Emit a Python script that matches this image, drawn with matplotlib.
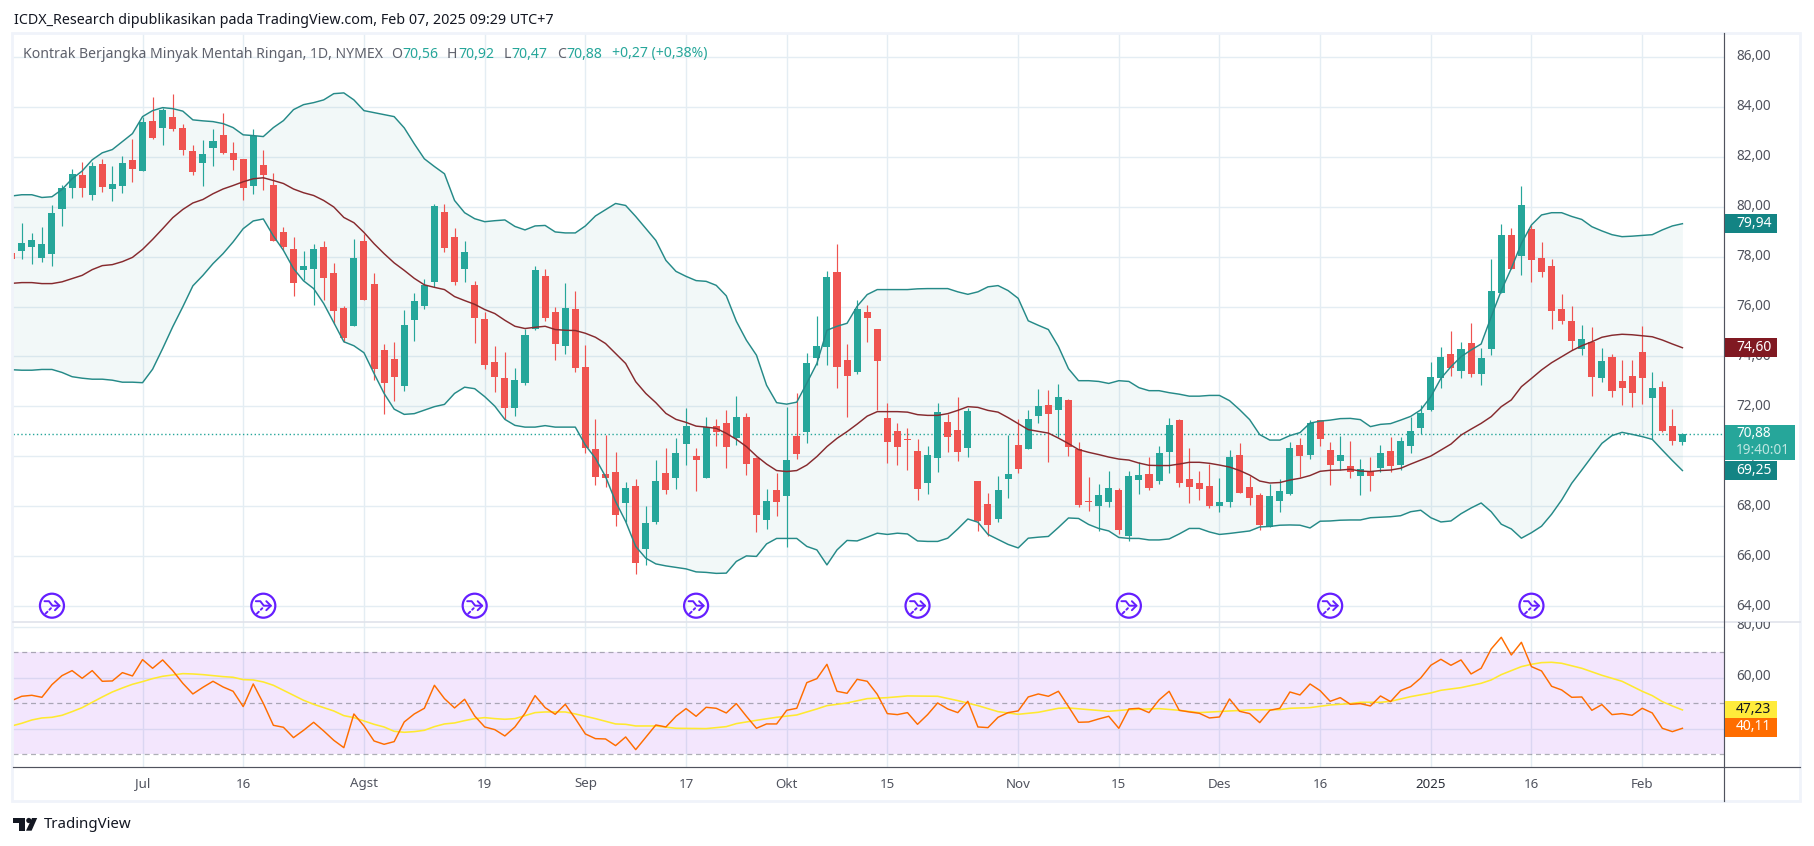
#!/usr/bin/env python3
"""Crude oil daily candles with Bollinger bands and an RSI pane, TradingView look."""

import matplotlib
matplotlib.use("Agg")
import matplotlib.pyplot as plt
import matplotlib.patches as patches
from matplotlib.transforms import Bbox

plt.rcParams["font.family"] = ["Noto Sans", "DejaVu Sans"]

W, H = 1814, 846
GREEN = "#26a69a"
RED = "#ef5350"
GRID = "#e4edf3"
TEXT = "#50535e"
PURPLE = "#651fff"

# bar numbers run from -13 (partly cut) to 153, bar 0 is 1 July 2024
first_bar = -13

bar_open = [
    78.15, 78.21, 78.37, 77.93, 78.09, 79.89, 80.73, 81.29, 80.45, 81.73, 80.69, 80.85, 81.89,
    81.45, 83.45, 83.17, 83.61, 83.17, 82.25, 81.77, 82.37, 82.89, 82.17,
    81.93, 80.85, 81.69, 80.89, 78.97, 78.29, 77.45, 77.49, 78.37, 77.33,
    75.93, 75.21, 78.61, 76.89, 74.25, 73.89, 72.81, 75.45, 76.01, 76.97,
    79.77, 78.77, 77.49, 76.85, 75.49, 73.77, 73.13, 71.93, 72.93, 75.09,
    77.21, 75.77, 74.41, 75.89, 73.57, 70.29, 69.29, 69.37, 68.13, 68.81,
    66.29, 67.37, 69.33, 69.13, 70.49, 70.01, 69.13, 71.21, 71.33, 70.73,
    71.57, 69.93, 67.45, 68.65, 68.41, 70.81, 70.97, 73.93, 74.37, 77.37,
    73.85, 73.37, 75.77, 75.09, 71.55, 71.03, 70.71, 70.23, 68.95, 69.95,
    71.39, 71.07, 70.35, 69.03, 68.07, 67.47, 69.11, 70.47, 70.31, 71.63,
    72.07, 71.87, 72.27, 70.31, 68.19, 67.99, 68.15, 68.67, 66.79, 69.07,
    69.31, 69.03, 70.19, 71.47, 69.11, 68.95, 68.83, 67.99, 68.15, 70.07,
    68.79, 68.47, 67.15, 68.19, 68.51, 70.47, 70.05, 71.45, 70.25, 69.81,
    69.61, 69.21, 69.41, 69.53, 70.21, 69.65, 70.41, 71.13, 71.86, 73.14,
    74.10, 73.42, 74.54, 73.30, 74.30, 76.54, 78.87, 78.02, 79.11, 77.94,
    77.62, 75.90, 75.42, 74.30, 74.58, 73.14, 73.98, 73.02, 73.22, 74.18,
    72.34, 72.78, 71.21, 70.56,
]
bar_high = [
    78.15, 79.35, 78.93, 79.17, 80.05, 80.89, 81.53, 81.81, 81.81, 81.93, 81.65, 82.05, 82.73,
    83.61, 84.41, 83.97, 84.53, 83.33, 82.49, 82.69, 83.13, 83.77, 82.61,
    81.93, 83.13, 82.29, 81.37, 79.17, 78.77, 78.21, 78.49, 78.61, 77.73,
    76.01, 78.69, 78.89, 77.33, 74.49, 74.57, 75.85, 76.53, 77.12, 80.09,
    80.09, 79.13, 78.61, 77.01, 75.77, 74.41, 74.17, 73.53, 75.09, 77.61,
    77.49, 75.97, 76.93, 76.61, 74.45, 71.49, 70.85, 70.17, 68.97, 69.09,
    68.01, 69.85, 70.33, 70.73, 71.93, 70.33, 71.57, 71.49, 71.85, 72.41,
    71.73, 69.99, 68.69, 69.33, 71.97, 72.53, 74.13, 75.61, 77.41, 78.49,
    74.49, 76.25, 76.05, 75.09, 72.15, 71.35, 71.15, 70.71, 70.43, 72.15,
    71.71, 72.39, 71.95, 69.03, 68.55, 69.23, 70.87, 71.51, 71.87, 72.71,
    72.67, 72.91, 72.31, 70.59, 69.19, 68.91, 69.43, 68.75, 69.43, 69.79,
    69.99, 70.43, 71.55, 71.51, 70.35, 69.43, 69.71, 69.15, 70.27, 70.55,
    69.23, 68.55, 68.91, 69.11, 70.59, 70.75, 71.45, 71.45, 70.57, 70.81,
    70.61, 69.89, 69.97, 70.45, 70.77, 70.77, 71.57, 72.05, 73.78, 74.38,
    75.02, 74.58, 75.34, 74.34, 77.90, 79.31, 79.15, 80.83, 79.27, 78.58,
    77.90, 76.50, 76.02, 75.26, 75.18, 74.34, 74.10, 73.86, 73.86, 75.22,
    73.38, 73.02, 71.90, 70.92,
]
bar_low = [
    77.89, 77.89, 77.69, 77.77, 77.61, 79.21, 80.35, 80.37, 80.25, 80.57, 80.21, 80.53, 81.01,
    81.43, 82.73, 82.49, 83.05, 82.09, 81.29, 80.85, 81.65, 82.13, 81.49,
    80.25, 80.49, 80.65, 78.61, 78.25, 76.41, 77.05, 76.05, 76.25, 75.32,
    74.59, 75.21, 76.25, 73.05, 71.69, 72.21, 72.61, 74.61, 75.89, 76.79,
    78.17, 76.85, 76.97, 74.53, 73.49, 72.57, 71.49, 71.61, 72.85, 75.05,
    75.41, 73.85, 74.09, 73.37, 70.13, 68.85, 68.77, 67.21, 67.37, 65.29,
    65.65, 67.29, 68.49, 68.69, 69.65, 68.61, 69.13, 70.41, 69.53, 70.45,
    69.25, 66.97, 67.09, 67.61, 66.37, 69.89, 70.53, 73.65, 73.65, 72.73,
    71.57, 73.29, 74.57, 71.85, 69.75, 69.67, 69.47, 68.23, 68.51, 69.39,
    70.19, 69.83, 69.99, 66.99, 66.79, 67.35, 68.35, 69.35, 70.31, 71.35,
    69.79, 70.79, 70.03, 67.95, 67.79, 66.99, 67.95, 66.87, 66.59, 68.51,
    68.67, 68.91, 69.35, 68.79, 68.11, 68.23, 67.91, 67.75, 67.95, 68.55,
    68.03, 67.03, 67.15, 67.75, 68.47, 69.19, 69.89, 70.41, 68.85, 69.45,
    69.13, 68.45, 68.61, 69.37, 69.37, 69.45, 70.13, 70.89, 71.82, 72.74,
    73.22, 73.14, 73.18, 72.86, 74.06, 76.54, 77.50, 77.26, 76.98, 77.18,
    75.10, 75.30, 74.26, 74.06, 72.42, 72.98, 72.38, 72.06, 71.98, 72.10,
    70.71, 70.97, 70.45, 70.47,
]
bar_close = [
    77.89, 78.53, 78.65, 78.49, 79.73, 80.73, 81.33, 80.73, 81.65, 80.81, 80.93, 81.77, 81.53,
    83.41, 82.77, 83.89, 83.13, 82.29, 81.41, 82.13, 82.65, 82.17, 81.89,
    80.73, 82.85, 81.29, 78.61, 78.37, 76.93, 77.61, 78.29, 77.13, 75.81,
    74.73, 77.93, 76.28, 73.49, 72.93, 73.17, 75.25, 76.21, 76.85, 80.01,
    78.33, 76.97, 78.17, 75.53, 73.65, 73.17, 71.93, 73.05, 74.85, 77.45,
    75.53, 74.49, 75.93, 73.53, 70.33, 69.17, 69.13, 67.65, 68.73, 65.73,
    67.33, 69.01, 68.65, 70.13, 71.21, 69.85, 71.17, 70.97, 70.37, 71.57,
    69.69, 67.65, 68.21, 68.17, 69.85, 70.09, 73.73, 74.41, 77.17, 73.57,
    73.21, 75.89, 75.53, 73.81, 70.59, 70.39, 70.67, 68.71, 70.07, 71.79,
    70.79, 70.19, 71.83, 67.39, 67.23, 68.67, 69.31, 69.51, 71.51, 72.03,
    71.71, 72.39, 70.39, 68.03, 68.15, 68.47, 68.75, 67.03, 69.23, 69.27,
    68.75, 70.15, 71.27, 68.95, 68.79, 68.71, 67.99, 68.15, 69.99, 68.55,
    68.31, 67.23, 68.43, 68.63, 70.35, 70.03, 71.33, 70.69, 69.65, 70.05,
    69.37, 69.49, 69.21, 70.13, 69.61, 70.61, 71.01, 71.73, 73.18, 73.98,
    73.54, 74.30, 73.30, 73.94, 76.62, 78.87, 77.50, 80.07, 77.86, 77.38,
    75.82, 75.42, 74.62, 74.70, 73.18, 73.82, 72.62, 72.74, 72.54, 73.14,
    72.74, 71.01, 70.61, 70.88,
]

bb_upper = [
    80.43, 80.48, 80.48, 80.37, 80.40, 80.69, 81.12, 81.43, 81.88, 82.16, 82.29, 82.61, 82.93,
    83.61, 83.85, 83.97, 83.93, 83.83, 83.48, 83.44, 83.41, 83.33, 83.17,
    82.88, 82.85, 82.81, 83.17, 83.45, 83.89, 84.09, 84.17, 84.28, 84.53,
    84.56, 84.28, 83.85, 83.77, 83.69, 83.61, 83.16, 82.52, 81.92, 81.61,
    81.32, 80.25, 79.76, 79.52, 79.40, 79.44, 79.47, 79.21, 79.07, 79.23,
    79.25, 78.99, 78.95, 78.95, 79.23, 79.63, 79.88, 80.13, 80.05, 79.61,
    79.13, 78.65, 77.85, 77.41, 77.21, 77.04, 77.01, 76.85, 76.43, 75.41,
    74.65, 74.05, 72.85, 72.15, 72.09, 72.17, 72.93, 73.72, 75.05, 75.21,
    75.33, 76.01, 76.48, 76.68, 76.68, 76.68, 76.68, 76.71, 76.72, 76.72,
    76.72, 76.59, 76.49, 76.59, 76.79, 76.84, 76.64, 76.33, 75.43, 75.25,
    75.08, 74.40, 73.51, 73.03, 73.03, 73.00, 72.92, 73.03, 73.00, 72.75,
    72.63, 72.63, 72.55, 72.49, 72.41, 72.41, 72.44, 72.44, 72.23, 71.87,
    71.47, 70.87, 70.65, 70.65, 70.83, 70.95, 71.33, 71.41, 71.45, 71.51,
    71.52, 71.47, 71.19, 71.28, 71.31, 71.45, 71.60, 71.86, 72.39, 73.12,
    73.59, 73.99, 74.26, 74.50, 75.59, 76.64, 77.53, 78.53, 79.27, 79.67,
    79.76, 79.76, 79.61, 79.49, 79.20, 79.03, 78.88, 78.80, 78.82, 78.85,
    78.88, 79.07, 79.23, 79.32,
]
bb_basis = [
    76.93, 76.96, 76.96, 76.92, 76.92, 76.99, 77.12, 77.25, 77.48, 77.64, 77.68, 77.80, 77.97,
    78.29, 78.69, 79.12, 79.56, 79.89, 80.15, 80.29, 80.52, 80.71, 80.85,
    81.00, 81.12, 81.16, 81.05, 80.93, 80.71, 80.56, 80.45, 80.25, 79.99,
    79.57, 79.36, 78.97, 78.52, 78.12, 77.75, 77.45, 77.13, 76.87, 76.77,
    76.68, 76.40, 76.24, 76.09, 75.88, 75.72, 75.45, 75.21, 75.12, 75.17,
    75.21, 75.08, 75.05, 75.04, 74.93, 74.77, 74.52, 74.12, 73.72, 72.99,
    72.52, 72.15, 71.72, 71.48, 71.36, 71.21, 71.17, 71.12, 70.92, 70.68,
    70.39, 70.01, 69.69, 69.43, 69.39, 69.43, 69.65, 69.99, 70.39, 70.72,
    70.99, 71.29, 71.61, 71.79, 71.79, 71.79, 71.77, 71.67, 71.64, 71.64,
    71.71, 71.84, 71.99, 71.96, 71.84, 71.77, 71.55, 71.31, 71.07, 71.00,
    70.93, 70.73, 70.51, 70.27, 70.16, 70.07, 69.97, 69.89, 69.85, 69.73,
    69.64, 69.63, 69.63, 69.69, 69.76, 69.76, 69.72, 69.65, 69.57, 69.43,
    69.25, 69.01, 68.93, 68.95, 69.05, 69.12, 69.23, 69.40, 69.44, 69.45,
    69.48, 69.41, 69.39, 69.43, 69.45, 69.52, 69.69, 69.85, 70.01, 70.25,
    70.49, 70.85, 71.09, 71.32, 71.59, 71.99, 72.26, 72.79, 73.12, 73.46,
    73.75, 73.99, 74.23, 74.43, 74.59, 74.77, 74.85, 74.89, 74.87, 74.83,
    74.79, 74.66, 74.50, 74.35,
]
bb_lower = [
    73.47, 73.45, 73.45, 73.48, 73.48, 73.36, 73.19, 73.13, 73.09, 73.09, 73.05, 72.97, 72.97,
    72.95, 73.49, 74.32, 75.19, 75.99, 76.83, 77.25, 77.72, 78.12, 78.59,
    79.12, 79.43, 79.51, 78.83, 78.25, 77.52, 77.03, 76.72, 76.12, 75.36,
    74.59, 74.43, 74.15, 73.32, 72.52, 71.89, 71.68, 71.71, 71.85, 71.99,
    72.08, 72.52, 72.77, 72.71, 72.39, 72.01, 71.48, 71.24, 71.17, 71.17,
    71.23, 71.17, 71.17, 71.17, 70.45, 69.92, 69.19, 68.19, 67.39, 66.39,
    65.92, 65.69, 65.61, 65.55, 65.49, 65.37, 65.35, 65.31, 65.32, 65.79,
    66.01, 65.99, 66.49, 66.71, 66.71, 66.71, 66.39, 66.25, 65.65, 66.25,
    66.63, 66.61, 66.76, 66.92, 66.87, 66.92, 66.89, 66.61, 66.59, 66.59,
    66.72, 67.09, 67.49, 67.36, 66.87, 66.67, 66.47, 66.33, 66.72, 66.76,
    66.79, 67.15, 67.53, 67.51, 67.27, 67.11, 67.01, 66.75, 66.71, 66.71,
    66.65, 66.65, 66.69, 66.89, 67.11, 67.11, 66.97, 66.87, 66.91, 66.96,
    67.01, 67.17, 67.19, 67.24, 67.25, 67.24, 67.13, 67.40, 67.41, 67.44,
    67.45, 67.45, 67.54, 67.56, 67.58, 67.62, 67.78, 67.84, 67.54, 67.37,
    67.41, 67.70, 67.93, 68.13, 67.78, 67.28, 67.09, 66.72, 66.94, 67.20,
    67.68, 68.25, 68.92, 69.45, 69.99, 70.52, 70.83, 70.96, 70.88, 70.79,
    70.68, 70.25, 69.83, 69.43,
]

rsi_values = [
    51.05, 52.75, 53.14, 52.35, 57.32, 60.85, 62.81, 59.80, 62.81, 58.63, 58.76, 62.03, 60.72,
    67.12, 63.73, 67.00, 62.81, 57.84, 53.66, 56.27, 58.63, 56.41, 54.71,
    48.70, 57.58, 50.00, 41.37, 40.59, 36.54, 39.41, 42.55, 39.15, 35.49,
    32.61, 45.82, 41.11, 35.23, 33.92, 34.97, 42.68, 45.82, 48.04, 57.06,
    51.83, 48.17, 51.57, 45.03, 40.72, 39.67, 37.19, 40.72, 46.08, 53.01,
    48.30, 45.69, 49.61, 43.99, 37.97, 36.14, 36.01, 33.40, 36.80, 31.83,
    36.67, 41.50, 40.72, 44.90, 47.91, 44.90, 48.43, 48.04, 46.21, 49.87,
    44.90, 40.20, 41.90, 41.90, 47.25, 48.04, 58.10, 59.67, 65.29, 54.71,
    53.92, 59.41, 58.63, 53.53, 45.95, 45.56, 46.34, 41.76, 45.56, 50.13,
    47.78, 46.34, 50.78, 40.72, 40.46, 44.51, 46.34, 47.00, 52.48, 53.66,
    52.75, 54.71, 48.70, 42.55, 42.68, 43.86, 44.90, 40.20, 47.78, 48.04,
    46.34, 51.31, 54.71, 47.25, 46.60, 46.08, 44.25, 44.64, 51.70, 46.86,
    45.95, 42.42, 47.25, 48.04, 54.44, 53.27, 57.58, 54.97, 50.78, 52.22,
    49.61, 49.87, 48.95, 52.88, 50.65, 54.97, 56.54, 59.93, 64.90, 67.25,
    64.90, 67.00, 61.50, 63.73, 71.31, 75.88, 68.95, 73.92, 64.38, 62.68,
    56.67, 55.23, 52.35, 52.48, 47.25, 49.48, 45.56, 45.95, 45.29, 48.04,
    46.21, 40.20, 38.89, 40.20,
]

# the smoothed RSI only read at its bends
rsi_ma_bars = [
    -13, -12, -11, -10, -9, -8, -7, -6, -5, -4, -3, -2, -1, 0, 1, 2, 3, 4, 5, 6, 7, 8, 9,
    10, 11, 12, 13, 14, 15, 16, 17, 18, 19, 20, 21, 22, 23, 24, 25, 26, 27, 28, 29, 30,
    31, 32, 33, 34, 35, 36, 37, 38, 39, 40, 41, 42, 43, 44, 45,
    47, 48, 49, 51, 53, 56, 58, 59, 61, 63, 65, 67, 68, 70, 72, 74, 76, 79, 81, 83, 85,
    87, 89, 91, 92, 94, 96, 98, 101, 103, 105,
    108, 110, 113, 114, 116, 118, 120, 121, 123, 124, 126, 128, 129, 131, 133, 134, 135,
    137, 138, 139, 140, 141, 143, 145, 147, 149, 150, 151, 152, 153,
]
rsi_ma_values = [
    41.11, 42.16, 43.46, 44.25, 44.51, 45.29, 46.73, 48.30, 50.39, 52.48, 54.44, 56.01, 57.45,
    58.50, 59.67, 60.59, 61.11, 61.63, 61.50, 61.24, 60.85, 60.46, 60.20,
    59.28, 59.15, 58.37, 57.06, 55.10, 53.14, 51.18, 49.61, 48.30, 46.99, 45.16, 44.38,
    43.07, 41.76, 40.71, 39.02, 38.63, 38.89, 39.41, 40.85, 41.90,
    42.29, 43.20, 43.99, 44.38, 43.99, 43.73, 43.99, 45.16, 46.34, 46.60, 46.60, 46.60,
    45.82, 44.90, 43.99,
    41.90, 41.76, 41.11, 41.11, 40.20, 40.07, 40.85, 42.03, 43.33, 44.51, 45.42, 47.78, 49.08,
    50.13, 51.83, 52.22, 52.88, 52.75, 51.05, 49.08, 46.73,
    45.69, 46.47, 48.04, 48.17, 47.52, 46.86, 47.52, 47.91, 47.25, 46.34,
    46.99, 47.39, 47.52, 48.04, 48.30, 49.35, 49.87, 50.39, 50.39, 50.78, 52.61, 54.05, 55.10,
    56.14, 57.84, 59.15, 61.24,
    64.38, 65.29, 65.95, 66.08, 65.69, 63.73, 60.98, 58.63, 54.71, 53.01, 50.65, 48.95, 47.39,
]

time_tick_bars = [0, 10, 22, 34, 44, 54, 64, 74, 87, 97, 107, 117, 128, 138, 149]
time_tick_labels = ["Jul", "16", "Agst", "19", "Sep", "17", "Okt", "15", "Nov", "15", "Des", "16", "2025", "16", "Feb"]
price_ticks = [64, 66, 68, 70, 72, 74, 76, 78, 80, 82, 84, 86]
rsi_ticks = [40, 60, 80]
rollover_bars = [-9, 12, 33, 55, 77, 98, 118, 138]

upper_label = "79,94"
basis_label = "74,60"
lower_label = "69,25"
close_label = "70,88"
countdown_label = "19:40:01"
rsi_label = "40,11"
rsi_ma_label = "47,23"

assert len(bar_open) == len(bar_high) == len(bar_low) == len(bar_close) == 167
assert len(bb_upper) == len(bb_basis) == len(bb_lower) == len(rsi_values) == 167
assert len(rsi_ma_bars) == len(rsi_ma_values)


def px_axes(fig, left, top, right, bottom):
    """Axes placed by pixel edges, y measured from the top of the picture."""
    return fig.add_axes([left / W, 1 - bottom / H, (right - left) / W, (bottom - top) / H])


def draw_candles(ax, bars):
    up = [c >= o for o, c in zip(bar_open, bar_close)]
    colors = [GREEN if u else RED for u in up]
    ax.vlines(bars, bar_low, bar_high, colors=colors, linewidth=0.85, zorder=3)
    tops = [max(o, c) for o, c in zip(bar_open, bar_close)]
    bots = [min(o, c) for o, c in zip(bar_open, bar_close)]
    heights = [max(t - b, 0.04) for t, b in zip(tops, bots)]
    ax.bar(bars, heights, bottom=bots, width=0.7, color=colors, linewidth=0, zorder=4)


def draw_bands(ax, bars):
    ax.fill_between(bars, bb_lower, bb_upper, color="#138484", alpha=0.05, linewidth=0, zorder=1)
    ax.plot(bars, bb_upper, color="#258a88", linewidth=1.05, zorder=5)
    ax.plot(bars, bb_lower, color="#258a88", linewidth=1.05, zorder=5)
    ax.plot(bars, bb_basis, color="#862a2e", linewidth=1.05, zorder=5)


def draw_rollover(ov, x, y=605.7):
    ov.add_patch(patches.Circle((x, y), 12, fill=False, edgecolor=PURPLE, linewidth=1.6))
    kw = dict(color=PURPLE, linewidth=1.4, solid_capstyle="round")
    ov.plot([x - 7.5, x - 3, x + 0.5, x + 7.5], [y - 4.5, y - 4.5, y, y], **kw)
    ov.plot([x + 3, x + 7.5, x + 3], [y - 4.5, y, y + 4.5], **kw)
    ov.plot([x - 1, x - 2.5], [y + 2.5, y + 4], **kw)
    ov.plot([x - 4.5, x - 6.5], [y + 6, y + 8], **kw)


def draw_logo(ov):
    ov.add_patch(patches.Polygon([(13, 818), (25, 818), (25, 830.7), (19, 830.7), (19, 823), (13, 823)],
                                 color="#131722", linewidth=0))
    ov.add_patch(patches.Circle((28.8, 820.5), 2.6, color="#131722", linewidth=0))
    ov.add_patch(patches.Polygon([(32, 818), (37.2, 818), (31.6, 830.7), (26, 830.7)],
                                 color="#131722", linewidth=0))
    ov.text(43.5, 824, "TradingView", fontsize=10.8, color="#131722", va="center", ha="left")


def value_box(ov, y, text, face, color="white", top=9.3, bottom=9.3, right=1776.5):
    ov.add_patch(patches.Rectangle((1725, y - top), right - 1725, top + bottom, facecolor=face,
                                   edgecolor="none", zorder=8))
    ov.text(1736, y - 0.5, text, fontsize=10, color=color, va="center", ha="left", zorder=9)


def main():
    fig = plt.figure(figsize=(W / 100, H / 100), dpi=100, facecolor="white")
    price = px_axes(fig, 12.5, 33.5, 1724, 622.3)
    rsi = px_axes(fig, 12.5, 622.3, 1724, 767.3)

    bars = list(range(first_bar, first_bar + len(bar_open)))
    xlim = (-12.92, 157.13)

    for ax in (price, rsi):
        ax.set_xlim(*xlim)
        ax.set_xticks(time_tick_bars)
        ax.set_xticklabels([])
        ax.tick_params(length=0, labelleft=False, labelbottom=False)
        ax.grid(True, color=GRID, linewidth=1.0)
        ax.set_axisbelow(True)
        for spine in ax.spines.values():
            spine.set_visible(False)

    price.set_ylim(63.35, 86.94)
    price.set_yticks(price_ticks)
    draw_bands(price, bars)
    draw_candles(price, bars)
    price.axhline(bar_close[-1], color=GREEN, linewidth=1.0, linestyle=(0, (1, 1.8)), zorder=2)

    rsi.set_ylim(24.9, 81.76)
    rsi.set_yticks(rsi_ticks)
    rsi.axhspan(30, 70, facecolor="#8a10f0", alpha=0.1, linewidth=0, zorder=1)
    for level in (30, 50, 70):
        rsi.axhline(level, color="#787b86", alpha=0.6, linewidth=0.9, linestyle=(0, (4, 3)), zorder=2)
    rsi.plot(rsi_ma_bars, rsi_ma_values, color="#ffe930", linewidth=1.15, zorder=3)
    rsi.plot(bars, rsi_values, color="#ff6d00", linewidth=1.05, zorder=4)

    # overlay in picture pixels for the axis furniture
    ov = fig.add_axes([0, 0, 1, 1], facecolor="none")
    ov.set_xlim(0, W)
    ov.set_ylim(H, 0)
    ov.axis("off")

    fig.canvas.draw()

    def y_of(ax, value):
        return H - ax.transData.transform((0, value))[1]

    def x_of(bar):
        return price.transData.transform((bar, 0))[0]

    ov.add_patch(patches.Rectangle((12, 33.5), 1788, 768, fill=False, edgecolor="#f0f3fa", linewidth=2))
    ov.plot([12.5, 1800], [622.3, 622.3], color="#e0e3eb", linewidth=1.2)
    ov.plot([12.5, 1800], [767.3, 767.3], color="#50535e", linewidth=0.85)
    ov.plot([1724.3, 1724.3], [33.5, 801], color="#50535e", linewidth=0.85)

    for v in price_ticks:
        ov.text(1736, y_of(price, v), f"{v},00", fontsize=9.8, color=TEXT, va="center", ha="left")
    clip = Bbox([[0, 0], [W, H - 622.3]])
    for v in rsi_ticks:
        t = ov.text(1736, y_of(rsi, v) - 1, f"{v},00", fontsize=9.8, color=TEXT, va="center", ha="left")
        t.set_clip_on(True)
        t.set_clip_box(clip)

    for b, label in zip(time_tick_bars, time_tick_labels):
        ov.text(x_of(b), 784, label, fontsize=9.6, color="#131722" if label == "2025" else TEXT, alpha=0.9 if label == "2025" else 1,
                fontweight="bold" if label == "2025" else "normal", va="center", ha="center")

    for b in rollover_bars:
        draw_rollover(ov, x_of(b))

    ov.text(13.5, 20, "ICDX_Research dipublikasikan pada TradingView.com, Feb 07, 2025 09:29 UTC+7",
            fontsize=10.3, color="#131722", va="center", ha="left")

    ov.text(23, 54, "Kontrak Berjangka Minyak Mentah Ringan, 1D, NYMEX", fontsize=10.1, color="#5d606b", va="center", ha="left")
    for x, letter in [(391.5, "O"), (447, "H"), (503.5, "L"), (557, "C")]:
        ov.text(x, 54, letter, fontsize=10.1, color="#5d606b", va="center", ha="left")
    for x, val in [(402, "70,56"), (458, "70,92"), (511.5, "70,47"), (566, "70,88"), (612, "+0,27 (+0,38%)")]:
        ov.text(x, 54, val, fontsize=10.1, color=GREEN, va="center", ha="left")

    draw_logo(ov)

    value_box(ov, y_of(price, bb_upper[-1]), upper_label, "#138484")
    value_box(ov, y_of(price, bb_basis[-1]), basis_label, "#801922")
    value_box(ov, y_of(price, bb_lower[-1]), lower_label, "#138484")

    # last price box holds the countdown too
    y_close = y_of(price, bar_close[-1])
    ov.add_patch(patches.Rectangle((1725, y_close - 9), 70, 34.5, facecolor=GREEN, edgecolor="none", zorder=8))
    ov.text(1736, y_close - 1, close_label, fontsize=9.8, color="white", va="center", ha="left", zorder=9)
    ov.text(1736, y_close + 16, countdown_label, fontsize=9.8, color="#bfe6e2", va="center", ha="left", zorder=9)

    value_box(ov, y_of(rsi, rsi_ma_values[-1]) + 0.5, rsi_ma_label, "#ffeb3b", color="#131722")
    value_box(ov, y_of(rsi, rsi_values[-1]) - 1, rsi_label, "#ff6d00")

    fig.savefig("out.png", dpi=100, facecolor="white")


if __name__ == "__main__":
    main()
